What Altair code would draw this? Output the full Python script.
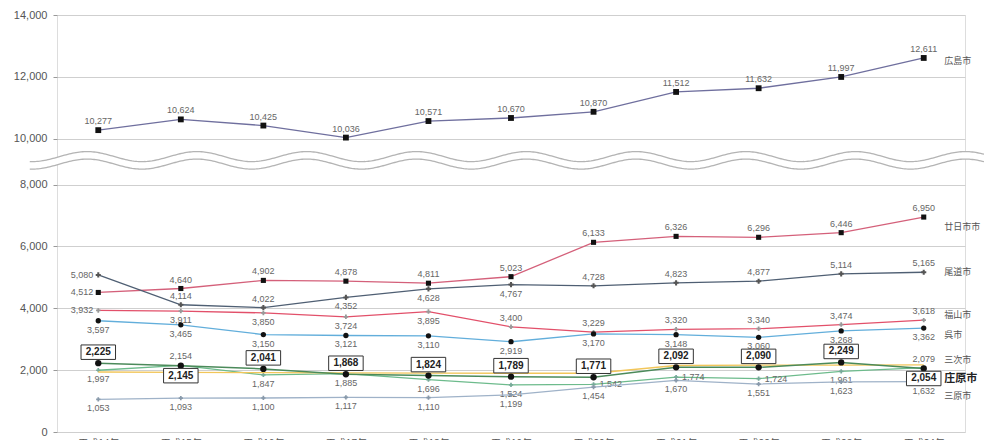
import altair as alt
import numpy as np
import pandas as pd

# ---- data -------------------------------------------------------------
years = ["平成14年", "平成15年", "平成16年", "平成17年", "平成18年", "平成19年",
         "平成20年", "平成21年", "平成22年", "平成23年", "平成24年"]

hiroshima = [10277, 10624, 10425, 10036, 10571, 10670, 10870, 11512, 11632, 11997, 12611]
hatsukaichi = [4512, 4640, 4902, 4878, 4811, 5023, 6133, 6326, 6296, 6446, 6950]
onomichi = [5080, 4114, 4022, 4352, 4628, 4767, 4728, 4823, 4877, 5114, 5165]
fukuyama = [3932, 3911, 3850, 3724, 3895, 3400, 3229, 3320, 3340, 3474, 3618]
kure = [3597, 3465, 3150, 3121, 3110, 2919, 3170, 3148, 3060, 3268, 3362]
miyoshi = [1997, 2154, 1847, 1885, 1696, 1524, 1542, 1774, 1724, 1961, 2079]
fuchu = [1940, 1930, 1920, 1910, 1905, 1900, 1900, 2150, 2160, 2160, 2170]
mihara = [1053, 1093, 1100, 1117, 1110, 1199, 1454, 1670, 1551, 1623, 1632]
shobara = [2225, 2145, 2041, 1868, 1824, 1789, 1771, 2092, 2090, 2249, 2054]

# ---- broken y scale: values above the break are shifted down ----------
GAP = 516          # 10,000 sits this much lower than its true position
BREAK = 9000


def disp(v):
    return v - GAP if v > BREAK else v


FONT = "Liberation Sans, Noto Sans CJK JP, sans-serif"

# name, values, line colour, marker shape, marker size, marker colour,
# label placement per point (a = above, b = below, l = left, r = right, - = none)
SERIES = [
    ("広島市", hiroshima, "#6f6f9e", "square", 34, "#111111", "aaaaaaaaaaa"),
    ("廿日市市", hatsukaichi, "#d4607a", "square", 26, "#111111", "laaaaaaaaaa"),
    ("尾道市", onomichi, "#4f5f73", "cross", 26, "#555555", "laabbbaaaaa"),
    ("福山市", fukuyama, "#e2506a", "cross", 20, "#999999", "lbbbbaaaaaa"),
    ("呉市", kure, "#62aedb", "circle", 28, "#111111", "bbbbbbbbbbb"),
    ("三次市", miyoshi, "#6dbb8c", "cross", 18, "#77aa99", "babbbbrrrba"),
    ("府中市", fuchu, "#f2c65a", "circle", 0, "#f2c65a", "-----------"),
    ("三原市", mihara, "#9fb2c8", "cross", 18, "#8899aa", "bbbbbbbbbbb"),
]

# right-hand series names: vertical nudge in pixels from the last point
NAME_NUDGE = {"広島市": 3, "廿日市市": 10, "尾道市": 0, "福山市": -5,
              "呉市": 7, "三次市": -8, "三原市": 14}

x_enc = alt.X("i:Q", scale=alt.Scale(domain=[-0.5, 10.5], nice=False, zero=False),
              axis=alt.Axis(values=list(range(len(years))), grid=False, domain=False,
                            ticks=False, labelPadding=6, labelFontSize=10,
                            labelColor="#555555", labelFont=FONT, title=None,
                            labelExpr=f"{years}[datum.value]"))

y_ticks = [0, 2000, 4000, 6000, 8000, disp(10000), disp(12000), disp(14000)]
y_enc = alt.Y("d:Q", scale=alt.Scale(domain=[0, disp(14000)], nice=False),
              axis=alt.Axis(values=y_ticks, grid=True, gridColor="#cfcfcf", gridWidth=1,
                            domain=False, tickSize=4, tickColor="#999999",
                            labelPadding=6, labelFontSize=11, labelColor="#555555",
                            labelFont=FONT, title=None,
                            labelExpr=f"format(datum.value > {BREAK} ? datum.value + {GAP} : datum.value, ',')"))


def frame(vals):
    return pd.DataFrame({
        "i": list(range(len(vals))),
        "v": vals,
        "d": [disp(v) for v in vals],
        "label": [f"{v:,}" for v in vals],
    })


layers = []

# wavy break band between 8,000 and 10,000
wx = np.arange(-0.83, 10.75, 0.02)
phase = np.cos(2 * np.pi * (wx + 0.136) / 1.33)
wave = pd.DataFrame({"i": wx, "d": 8905 + 162 * phase, "d2": 8663 + 162 * phase})
layers.append(alt.Chart(wave).mark_area(color="white", clip=False)
              .encode(x=x_enc, y=y_enc, y2="d2:Q"))
layers.append(alt.Chart(wave).mark_line(color="#b4b4b4", strokeWidth=1.3, clip=False)
              .encode(x=x_enc, y=y_enc))
layers.append(alt.Chart(wave).mark_line(color="#b4b4b4", strokeWidth=1.3, clip=False)
              .encode(x=x_enc, y=alt.Y("d2:Q")))

label_style = dict(fontSize=9, font=FONT, color="#666666", baseline="middle")
PLACE = {
    "a": dict(yOffset=-9),
    "b": dict(yOffset=9),
    "l": dict(xOffset=-5, align="right"),
    "r": dict(xOffset=6, align="left"),
}

for name, vals, color, shape, size, mcolor, place in SERIES:
    df = frame(vals)
    df["place"] = list(place)
    base = alt.Chart(df)
    layers.append(base.mark_line(color=color, strokeWidth=1.3).encode(x=x_enc, y=y_enc))
    if size:
        layers.append(base.mark_point(shape=shape, size=size, filled=True, color=mcolor,
                                      opacity=1).encode(x=x_enc, y=y_enc))
    for key, opts in PLACE.items():
        if key not in place:
            continue
        layers.append(base.transform_filter(f"datum.place == '{key}'")
                      .mark_text(**opts, **label_style)
                      .encode(x=x_enc, y=y_enc, text="label:N"))
    if name in NAME_NUDGE:
        end = pd.DataFrame({"i": [10.25], "d": [disp(vals[-1])], "name": [name]})
        layers.append(alt.Chart(end).mark_text(align="left", baseline="middle",
                                               yOffset=NAME_NUDGE[name], fontSize=9,
                                               font=FONT, color="#555555")
                      .encode(x=x_enc, y=y_enc, text="name:N"))

# highlighted series: boxed bold labels
sdf = frame(shobara)
sdf["place"] = list("abaaaaaaaab")
sbase = alt.Chart(sdf)
BOX = "M-1,-0.42H1V0.42H-1Z"
layers.append(sbase.mark_line(color="#4b8a5a", strokeWidth=1.5).encode(x=x_enc, y=y_enc))
layers.append(sbase.mark_point(shape="circle", size=40, filled=True, color="#111111",
                               opacity=1).encode(x=x_enc, y=y_enc))
for pl, off in (("a", -11), ("b", 10)):
    sub = sbase.transform_filter(f"datum.place == '{pl}'")
    layers.append(sub.mark_point(shape=BOX, size=1190, filled=True, fill="white",
                                 stroke="#333333", strokeWidth=1, opacity=1, yOffset=off)
                  .encode(x=x_enc, y=y_enc))
    layers.append(sub.mark_text(yOffset=off, fontSize=10, fontWeight="bold", font=FONT,
                                color="#222222", baseline="middle")
                  .encode(x=x_enc, y=y_enc, text="label:N"))
send = pd.DataFrame({"i": [10.25], "d": [disp(shobara[-1])], "name": ["庄原市"]})
layers.append(alt.Chart(send).mark_text(align="left", baseline="middle", yOffset=11,
                                        fontSize=11, fontWeight="bold", font=FONT,
                                        color="#222222")
              .encode(x=x_enc, y=y_enc, text="name:N"))

chart = (
    alt.layer(*layers)
    .properties(width=908, height=417,
                padding={"left": 57, "top": 15, "right": 19, "bottom": 8},
                autosize=alt.AutoSizeParams(type="none"))
    .configure_view(stroke="#8c8c8c", strokeWidth=2)
    .configure(background="white")
)

chart.save("out.html", embed_options={"renderer": "svg", "actions": False})
